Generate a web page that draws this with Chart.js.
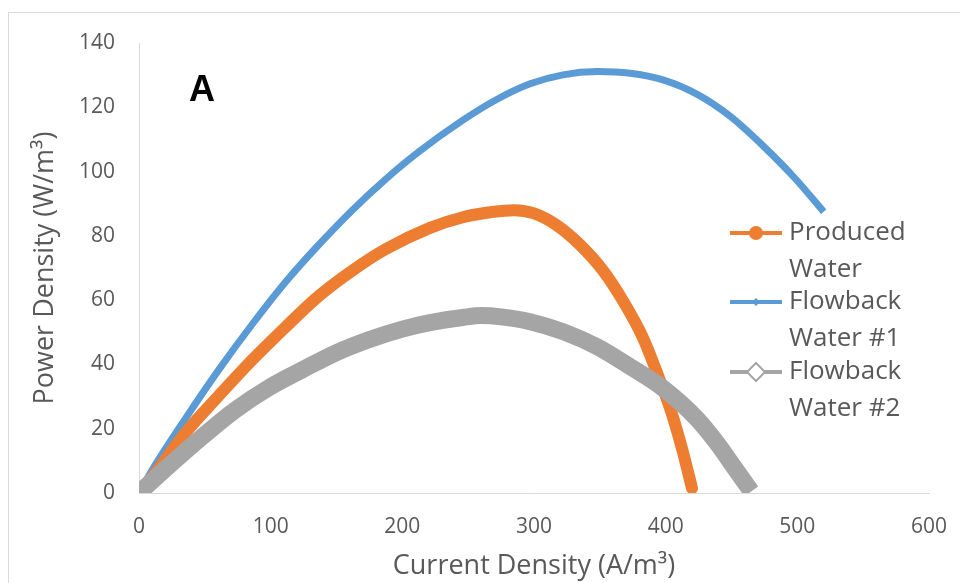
<!DOCTYPE html>
<html>
<head>
<meta charset="utf-8">
<script src="https://cdn.jsdelivr.net/npm/chart.js@4"></script>
<style>
  html, body { margin: 0; padding: 0; background: #fff; }
  #wrap { position: relative; width: 960px; height: 583px; overflow: hidden; }
  #frame { position: absolute; left: 8px; top: 12px; width: 1000px; height: 700px;
           border-top: 1px solid #d9d9d9; border-left: 1px solid #d9d9d9; }
  canvas { position: absolute; left: 0; top: 0; }
</style>
</head>
<body>
<div id="wrap">
  <div id="frame"></div>
  <canvas id="chart" width="960" height="583"></canvas>
</div>
<script>
// Produced Water (x = current density A/m3, y = power density W/m3)
const producedX = [0, 12, 35, 60, 86, 111, 136, 162, 187, 221, 246, 268, 285, 300, 317, 335, 353, 368, 383, 395, 405, 413, 420];
const producedY = [0, 6, 18.6, 30, 41.4, 51.5, 61.1, 69.2, 75.8, 82.5, 85.8, 87.4, 88, 87, 83.4, 77.2, 68.9, 59.5, 48.1, 35.7, 24.3, 12.9, 1.5];

// Flowback Water #1
const flow1X = [0, 12, 35, 60, 86, 111, 136, 162, 187, 212, 246, 272, 297, 322, 348, 373, 398, 424, 449, 474, 498, 520];
const flow1Y = [0, 8.5, 23, 38, 52.5, 65.5, 77, 88, 97.5, 106, 116, 122.5, 127.3, 130.1, 131.1, 130.6, 128.5, 124, 117.2, 108, 98, 87.5];

// Flowback Water #2
const flow2X = [0, 22, 48, 73, 98, 124, 149, 174, 200, 221, 246, 260, 275, 297, 322, 348, 373, 398, 424, 439, 452, 465];
const flow2Y = [0, 8.2, 17.5, 25.8, 32.6, 38.3, 43.5, 47.6, 51, 53, 54.6, 55.2, 54.8, 53.3, 50.2, 45.5, 39.3, 32.6, 23, 15.5, 8, 0.5];

const seriesNames = ['Produced Water', 'Flowback Water #1', 'Flowback Water #2'];
const legendLines = [['Produced', 'Water'], ['Flowback', 'Water #1'], ['Flowback', 'Water #2']];
const xTicks = [0, 100, 200, 300, 400, 500, 600];
const yTicks = [0, 20, 40, 60, 80, 100, 120, 140];

const FONT = "'Open Sans', sans-serif";
const TEXT = '#595959';

const toPoints = (xs, ys) => xs.map((x, i) => ({ x, y: ys[i] }));

// custom legend, sits inside the plot on the right like the original
const sideLegend = {
  id: 'sideLegend',
  afterDraw(chart) {
    const ctx = chart.ctx;
    const x0 = 730, x1 = 782, tx = 789;
    const rows = [233, 302, 372];
    chart.data.datasets.forEach((ds, i) => {
      const y = rows[i];
      ctx.save();
      ctx.strokeStyle = ds.borderColor;
      ctx.lineWidth = 4;
      ctx.beginPath();
      ctx.moveTo(x0, y);
      ctx.lineTo(x1, y);
      ctx.stroke();
      const mx = (x0 + x1) / 2;
      if (ds.legendMarker === 'circle') {
        ctx.fillStyle = ds.borderColor;
        ctx.beginPath();
        ctx.arc(mx, y, 7, 0, Math.PI * 2);
        ctx.fill();
      } else if (ds.legendMarker === 'smallDiamond') {
        ctx.fillStyle = ds.borderColor;
        ctx.beginPath();
        ctx.moveTo(mx, y - 4); ctx.lineTo(mx + 4, y); ctx.lineTo(mx, y + 4); ctx.lineTo(mx - 4, y);
        ctx.closePath();
        ctx.fill();
      } else {
        ctx.fillStyle = '#fff';
        ctx.lineWidth = 2;
        ctx.beginPath();
        ctx.moveTo(mx, y - 9); ctx.lineTo(mx + 9, y); ctx.lineTo(mx, y + 9); ctx.lineTo(mx - 9, y);
        ctx.closePath();
        ctx.fill();
        ctx.stroke();
      }
      ctx.fillStyle = TEXT;
      ctx.font = '26px ' + FONT;
      ctx.textBaseline = 'middle';
      legendLines[i].forEach((t, k) => ctx.fillText(t, tx, y + k * 37));
      ctx.restore();
    });

    // panel letter
    ctx.save();
    ctx.fillStyle = '#000';
    ctx.font = "bold 36px 'Liberation Sans', Arial, sans-serif";
    ctx.textBaseline = 'middle';
    ctx.fillText('A', 189, 91);
    ctx.restore();
  }
};

new Chart(document.getElementById('chart'), {
  type: 'scatter',
  data: {
    datasets: [
      {
        label: seriesNames[0],
        data: toPoints(producedX, producedY),
        borderColor: '#ed7d31',
        backgroundColor: '#ed7d31',
        borderWidth: 12,
        borderCapStyle: 'round',
        borderJoinStyle: 'round',
        showLine: true,
        cubicInterpolationMode: 'monotone',
        pointRadius: 0,
        order: 2,
        legendMarker: 'circle',
      },
      {
        label: seriesNames[1],
        data: toPoints(flow1X, flow1Y),
        borderColor: '#5b9bd5',
        backgroundColor: '#5b9bd5',
        borderWidth: 7,
        borderJoinStyle: 'round',
        showLine: true,
        cubicInterpolationMode: 'monotone',
        pointRadius: 0,
        order: 3,
        legendMarker: 'smallDiamond',
      },
      {
        label: seriesNames[2],
        data: toPoints(flow2X, flow2Y),
        borderColor: '#a5a5a5',
        backgroundColor: '#a5a5a5',
        borderWidth: 17,
        borderJoinStyle: 'round',
        showLine: true,
        cubicInterpolationMode: 'monotone',
        pointRadius: 0,
        order: 1,
        legendMarker: 'hollowDiamond',
      },
    ]
  },
  options: {
    responsive: false,
    animation: false,
    layout: { padding: { left: 0, top: 43, right: 31, bottom: 0 } },
    plugins: {
      legend: { display: false },
      tooltip: { enabled: false },
    },
    scales: {
      x: {
        type: 'linear',
        min: 0, max: 600,
        afterBuildTicks: s => { s.ticks = xTicks.map(v => ({ value: v })); },
        afterFit: s => { s.height = 90; s.paddingLeft = 0; s.paddingRight = 0; },
        grid: { display: false, drawTicks: false },
        border: { display: true, color: '#d9d9d9', width: 1 },
        ticks: { color: TEXT, font: { family: FONT, size: 21 }, padding: 21, maxRotation: 0 },
        title: {
          display: true,
          text: 'Current Density (A/m³)',
          color: TEXT,
          font: { family: FONT, size: 27 },
          padding: { top: 0, bottom: 0 },
        },
      },
      y: {
        type: 'linear',
        min: 0, max: 140,
        afterBuildTicks: s => { s.ticks = yTicks.map(v => ({ value: v })); },
        afterFit: s => { s.width = 139; s.paddingTop = 0; s.paddingBottom = 0; },
        grid: { display: false, drawTicks: false },
        border: { display: true, color: '#d9d9d9', width: 1 },
        ticks: { color: TEXT, font: { family: FONT, size: 21 }, padding: 24 },
        title: {
          display: true,
          text: 'Power Density (W/m³)',
          color: TEXT,
          font: { family: FONT, size: 27 },
          padding: { top: 29, bottom: 0 },
        },
      }
    }
  },
  plugins: [sideLegend]
});
</script>
</body>
</html>
